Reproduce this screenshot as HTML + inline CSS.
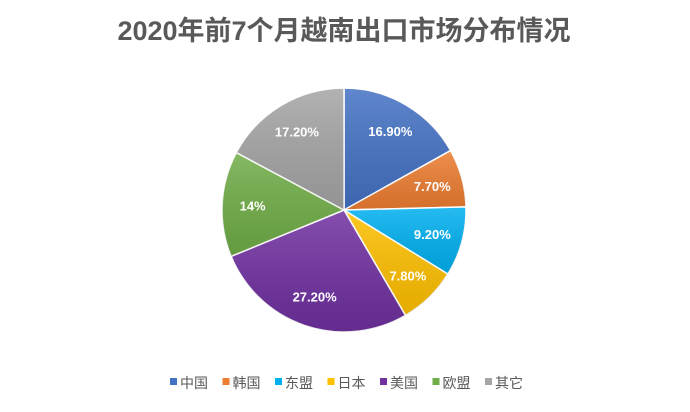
<!DOCTYPE html>
<html><head><meta charset="utf-8"><style>
body{margin:0;background:#fff;}
svg{display:block;font-family:"Liberation Sans","Noto Sans CJK SC",sans-serif;}
</style></head><body>
<svg width="690" height="412" viewBox="0 0 690 412">
<defs>
<linearGradient id="g" x1="0" y1="0" x2="0" y2="1"><stop offset="0" stop-color="#fff" stop-opacity="0.15"/><stop offset="1" stop-color="#000" stop-opacity="0.1"/></linearGradient>
</defs>
<text x="344" y="40" text-anchor="middle" font-size="27" font-weight="bold" fill="#595959">2020年前7个月越南出口市场分布情况</text>
<g id="slices"></g>
<g id="labels"></g>
<g id="legend"></g>
</svg>
<script>
const categories=["中国","韩国","东盟","日本","美国","欧盟","其它"];
const values=[16.9,7.7,9.2,7.8,27.2,14,17.2];
const valueLabels=["16.90%","7.70%","9.20%","7.80%","27.20%","14%","17.20%"];
const colors=["#4472C4","#ED7D31","#00B0F0","#FFC000","#7030A0","#70AD47","#A5A5A5"];
const NS="http://www.w3.org/2000/svg";
const cx=344,cy=210,r=122;
const total=values.reduce((a,b)=>a+b,0);
function pt(a,rad){return [cx+rad*Math.sin(a),cy-rad*Math.cos(a)];}
const sg=document.getElementById('slices'),lg=document.getElementById('labels'),leg=document.getElementById('legend');
let acc=0;
values.forEach((v,i)=>{
 const a0=acc/total*2*Math.PI;acc+=v;const a1=acc/total*2*Math.PI;
 const p0=pt(a0,r),p1=pt(a1,r),large=(a1-a0)>Math.PI?1:0;
 const d=`M${cx},${cy}L${p0[0]},${p0[1]}A${r},${r} 0 ${large} 1 ${p1[0]},${p1[1]}Z`;
 const p=document.createElementNS(NS,'path');
 p.setAttribute('d',d);p.setAttribute('fill',colors[i]);p.setAttribute('stroke','#fff');p.setAttribute('stroke-width','1.5');
 
 
 sg.appendChild(p);
 const o=document.createElementNS(NS,'path');o.setAttribute('d',d);o.setAttribute('fill','url(#g)');
 
 
 sg.appendChild(o);
 const m=pt((a0+a1)/2,r*0.75);
 const t=document.createElementNS(NS,'text');
 t.setAttribute('x',m[0]);t.setAttribute('y',m[1]+5);t.setAttribute('text-anchor','middle');
 t.setAttribute('font-size','13');t.setAttribute('font-weight','bold');t.setAttribute('fill','#fff');
 t.textContent=valueLabels[i];
 
 
 lg.appendChild(t);
});
let lx=170;
categories.forEach((c,i)=>{
 const g=document.createElementNS(NS,'g');
 
 
 const s=document.createElementNS(NS,'rect');s.setAttribute('x',lx);s.setAttribute('y',378);s.setAttribute('width',7);s.setAttribute('height',7);s.setAttribute('fill',colors[i]);
 const t=document.createElementNS(NS,'text');t.setAttribute('x',lx+10);t.setAttribute('y',388);t.setAttribute('font-size','14');t.setAttribute('fill','#595959');t.textContent=c;
 g.appendChild(s);g.appendChild(t);leg.appendChild(g);
 lx+=52.5;
});
</script>
</body></html>
